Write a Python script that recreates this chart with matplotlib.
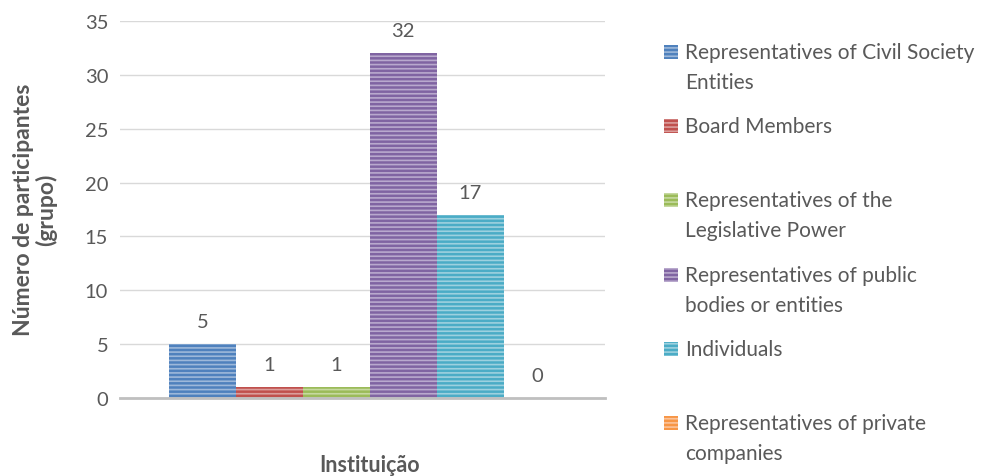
import matplotlib
matplotlib.use("Agg")
import matplotlib.pyplot as plt
from matplotlib.patches import Rectangle

categories = ["Representatives of Civil Society Entities", "Board Members",
              "Representatives of the Legislative Power",
              "Representatives of public bodies or entities",
              "Individuals", "Representatives of private companies"]
legend_labels = [["Representatives of Civil Society", "Entities"], ["Board Members"],
                 ["Representatives of the", "Legislative Power"],
                 ["Representatives of public", "bodies or entities"],
                 ["Individuals"], ["Representatives of private", "companies"]]
values = [5, 1, 1, 32, 17, 0]
colors = ["#4F81BD", "#C0504D", "#9BBB59", "#8064A2", "#4BACC6", "#F79646"]
stripe = ["#9DB8DA", "#DB9E9C", "#C6D9A0", "#B9A9CD", "#9DD1DF", "#FBC39A"]
yticks = [0, 5, 10, 15, 20, 25, 30, 35]

plt.rcParams['font.family'] = ['Lato', 'DejaVu Sans']
plt.rcParams['hatch.linewidth'] = 1.2
txt = "#595959"

fig = plt.figure(figsize=(9.9, 4.77), dpi=100)
ax = fig.add_axes([120/990, 1-399/477, (605-120)/990, (399-22)/477])

for i, (v, c, s) in enumerate(zip(values, colors, stripe)):
    ax.bar(i, v, width=1.0, color=c, edgecolor=s, linewidth=0, hatch='----', zorder=3)
    ax.text(i, v + 2.1, str(v), ha='center', va='center', fontsize=14.5, color=txt)

ax.set_xlim(-1.23, 6.01)
ax.set_ylim(0, 35)
ax.set_yticks(yticks)
ax.set_yticklabels([str(t) for t in yticks], fontsize=14.5, color=txt)
ax.tick_params(axis='y', length=0, pad=8.5)
ax.set_xticks([])
ax.grid(axis='y', color='#D9D9D9', linewidth=1, zorder=0)
for sp in ['top', 'right', 'left']:
    ax.spines[sp].set_visible(False)
ax.spines['bottom'].set_color('#BFBFBF')
ax.spines['bottom'].set_linewidth(2)
ax.spines['bottom'].set_zorder(4)

fig.text(370/990, 1-466/477, "Instituição", ha='center', va='center',
         fontsize=15.5, fontweight='bold', color=txt)
fig.text(35/990, 1-210/477, "Número de participantes\n(grupo)", ha='center', va='center',
         rotation=90, fontsize=16.5, fontweight='bold', color=txt, linespacing=1.05)

leg_y = [53, 127, 201, 276, 350, 424]
for lines, c, s, y in zip(legend_labels, colors, stripe, leg_y):
    fig.patches.append(Rectangle((664/990, 1-(y+7)/477), 14/990, 14/477,
                                 transform=fig.transFigure, facecolor=c,
                                 edgecolor=s, linewidth=0, hatch='----'))
    for k, line in enumerate(lines):
        fig.text(685/990, 1-(y + 30*k)/477, line, ha='left', va='center', fontsize=15,
                 color=txt)

fig.savefig("out.png", dpi=100)
